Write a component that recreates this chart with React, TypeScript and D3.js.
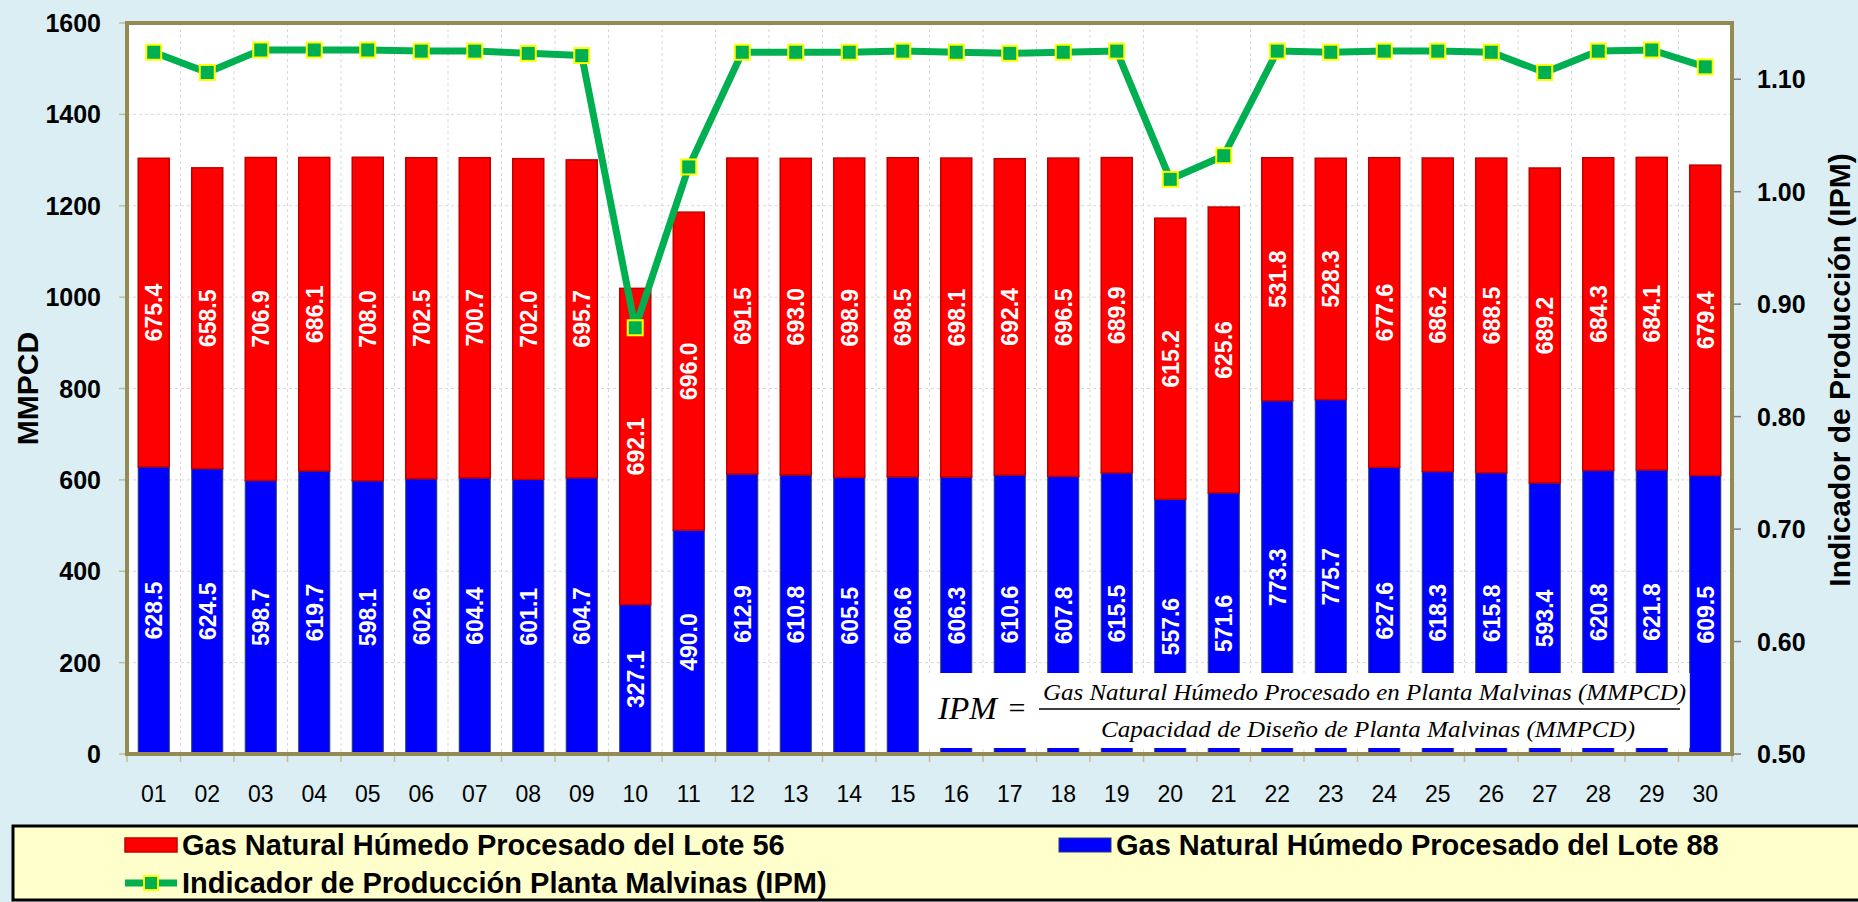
import { useEffect, useRef } from 'react';
import * as d3 from 'd3';

const days = ['01', '02', '03', '04', '05', '06', '07', '08', '09', '10', '11', '12', '13', '14', '15',
    '16', '17', '18', '19', '20', '21', '22', '23', '24', '25', '26', '27', '28', '29', '30'];

// Gas Natural Húmedo Procesado del Lote 56 (MMPCD)
const lote56 = [675.4, 658.5, 706.9, 686.1, 708.0, 702.5, 700.7, 702.0, 695.7, 692.1, 696.0, 691.5, 693.0, 698.9, 698.5,
    698.1, 692.4, 696.5, 689.9, 615.2, 625.6, 531.8, 528.3, 677.6, 686.2, 688.5, 689.2, 684.3, 684.1, 679.4];

// Gas Natural Húmedo Procesado del Lote 88 (MMPCD)
const lote88 = [628.5, 624.5, 598.7, 619.7, 598.1, 602.6, 604.4, 601.1, 604.7, 327.1, 490.0, 612.9, 610.8, 605.5, 606.6,
    606.3, 610.6, 607.8, 615.5, 557.6, 571.6, 773.3, 775.7, 627.6, 618.3, 615.8, 593.4, 620.8, 621.8, 609.5];

// Indicador de Producción Planta Malvinas
const ipm = [1.124, 1.106, 1.126, 1.126, 1.126, 1.125, 1.125, 1.123, 1.121, 0.879, 1.022, 1.124, 1.124, 1.124, 1.125,
    1.124, 1.123, 1.124, 1.125, 1.011, 1.032, 1.125, 1.124, 1.125, 1.125, 1.124, 1.106, 1.125, 1.126, 1.111];

const leftTicks = [0, 200, 400, 600, 800, 1000, 1200, 1400, 1600];
const rightTicks = [0.5, 0.6, 0.7, 0.8, 0.9, 1.0, 1.1];

const legendLabels = [
    'Gas Natural Húmedo Procesado del Lote 56',
    'Gas Natural Húmedo Procesado del Lote 88',
    'Indicador de Producción Planta Malvinas (IPM)'
];

const formulaTop = 'Gas Natural Húmedo Procesado en Planta Malvinas (MMPCD)';
const formulaBottom = 'Capacidad de Diseño de Planta Malvinas (MMPCD)';

const SANS = "'Liberation Sans', Arial, sans-serif";
const SERIF = "'Liberation Serif', 'Times New Roman', serif";

const App = () => {
    const svgRef = useRef<SVGSVGElement>(null);

    useEffect(() => {
        const W = 1858;
        const H = 902;
        const plot = { left: 127, right: 1732, top: 23, bottom: 754 };

        const svg = d3.select(svgRef.current);
        svg.selectAll('*').remove();

        svg.append('rect').attr('width', W).attr('height', H).attr('fill', '#DAEEF3');

        const x = d3.scaleBand<string>()
            .domain(days)
            .range([plot.left, plot.right])
            .paddingInner(0.42)
            .paddingOuter(0.21);
        const step = x.step();

        const y = d3.scaleLinear().domain([0, 1600]).range([plot.bottom, plot.top]);
        const y2 = d3.scaleLinear().domain([0.5, 1.15]).range([plot.bottom, plot.top]);

        // plot area
        svg.append('rect')
            .attr('x', plot.left).attr('y', plot.top)
            .attr('width', plot.right - plot.left).attr('height', plot.bottom - plot.top)
            .attr('fill', '#ffffff');

        // grid
        svg.append('g')
            .selectAll('line')
            .data(leftTicks.filter(t => t > 0 && t < 1600))
            .enter()
            .append('line')
            .attr('x1', plot.left).attr('x2', plot.right)
            .attr('y1', d => y(d)).attr('y2', d => y(d))
            .attr('stroke', '#D9D9D9').attr('stroke-width', 1).attr('stroke-dasharray', '3,3');

        svg.append('g')
            .selectAll('line')
            .data(days.slice(1))
            .enter()
            .append('line')
            .attr('x1', d => (x(d) as number) - step * 0.21)
            .attr('x2', d => (x(d) as number) - step * 0.21)
            .attr('y1', plot.top).attr('y2', plot.bottom)
            .attr('stroke', '#D9D9D9').attr('stroke-width', 1).attr('stroke-dasharray', '3,3');

        // stacked bars
        const bars = svg.append('g');
        bars.selectAll('.b88')
            .data(days)
            .enter()
            .append('rect')
            .attr('class', 'b88')
            .attr('x', d => x(d) as number)
            .attr('width', x.bandwidth())
            .attr('y', (d, i) => y(lote88[i]))
            .attr('height', (d, i) => y(0) - y(lote88[i]))
            .attr('fill', '#0000FF')
            .attr('stroke', '#243F60')
            .attr('stroke-width', 1);

        bars.selectAll('.b56')
            .data(days)
            .enter()
            .append('rect')
            .attr('class', 'b56')
            .attr('x', d => x(d) as number)
            .attr('width', x.bandwidth())
            .attr('y', (d, i) => y(lote88[i] + lote56[i]))
            .attr('height', (d, i) => y(lote88[i]) - y(lote88[i] + lote56[i]))
            .attr('fill', '#FF0000')
            .attr('stroke', '#C00000')
            .attr('stroke-width', 1.5);

        // bar labels
        const labelG = svg.append('g')
            .attr('font-family', SANS)
            .attr('font-size', 23)
            .attr('font-weight', 'bold')
            .attr('fill', '#ffffff')
            .attr('text-anchor', 'middle');

        days.forEach((d, i) => {
            const cx = (x(d) as number) + x.bandwidth() / 2;
            const cyBlue = (y(0) + y(lote88[i])) / 2;
            const cyRed = (y(lote88[i]) + y(lote88[i] + lote56[i])) / 2;
            labelG.append('text')
                .attr('transform', `translate(${cx},${cyBlue}) rotate(-90)`)
                .attr('dy', '0.36em')
                .text(lote88[i].toFixed(1));
            labelG.append('text')
                .attr('transform', `translate(${cx},${cyRed}) rotate(-90)`)
                .attr('dy', '0.36em')
                .text(lote56[i].toFixed(1));
        });

        // formula box
        const box = { x: 920, y: 673, right: x('30') as number, bottom: 748 };
        svg.append('rect')
            .attr('x', box.x).attr('y', box.y)
            .attr('width', box.right - box.x).attr('height', box.bottom - box.y)
            .attr('fill', '#ffffff');
        svg.append('text')
            .attr('x', 938).attr('y', 719)
            .attr('font-family', SERIF).attr('font-style', 'italic')
            .attr('font-size', 32)
            .attr('textLength', 59).attr('lengthAdjust', 'spacingAndGlyphs')
            .text('IPM');
        svg.append('text')
            .attr('x', 1017).attr('y', 718)
            .attr('font-family', SERIF)
            .attr('font-size', 30)
            .attr('text-anchor', 'middle')
            .text('=');
        svg.append('line')
            .attr('x1', 1039).attr('x2', 1680)
            .attr('y1', 709).attr('y2', 709)
            .attr('stroke', '#000').attr('stroke-width', 1.6);
        svg.append('text')
            .attr('x', 1043).attr('y', 700)
            .attr('font-family', SERIF).attr('font-style', 'italic')
            .attr('font-size', 24)
            .attr('textLength', 643).attr('lengthAdjust', 'spacingAndGlyphs')
            .text(formulaTop);
        svg.append('text')
            .attr('x', 1101).attr('y', 737)
            .attr('font-family', SERIF).attr('font-style', 'italic')
            .attr('font-size', 24)
            .attr('textLength', 534).attr('lengthAdjust', 'spacingAndGlyphs')
            .text(formulaBottom);

        // plot border
        svg.append('rect')
            .attr('x', plot.left).attr('y', plot.top)
            .attr('width', plot.right - plot.left).attr('height', plot.bottom - plot.top)
            .attr('fill', 'none')
            .attr('stroke', '#948A54')
            .attr('stroke-width', 4);

        // left axis
        const leftAxis = svg.append('g').attr('font-family', SANS);
        leftTicks.forEach(t => {
            leftAxis.append('line')
                .attr('x1', plot.left - 8).attr('x2', plot.left - 2)
                .attr('y1', y(t)).attr('y2', y(t))
                .attr('stroke', '#C4BD97').attr('stroke-width', 1.5);
            leftAxis.append('text')
                .attr('x', 101).attr('y', y(t))
                .attr('dy', '0.36em')
                .attr('text-anchor', 'end')
                .attr('font-size', 25).attr('font-weight', 'bold')
                .text(t);
        });

        // right axis
        const rightAxis = svg.append('g').attr('font-family', SANS);
        rightTicks.forEach(t => {
            rightAxis.append('line')
                .attr('x1', plot.right + 2).attr('x2', plot.right + 9)
                .attr('y1', y2(t)).attr('y2', y2(t))
                .attr('stroke', '#808080').attr('stroke-width', 1.5);
            rightAxis.append('text')
                .attr('x', 1757).attr('y', y2(t))
                .attr('dy', '0.36em')
                .attr('font-size', 25).attr('font-weight', 'bold')
                .text(t.toFixed(2));
        });

        // x axis ticks + labels
        const xAxis = svg.append('g').attr('font-family', SANS);
        d3.range(days.length + 1).forEach(i => {
            const px = plot.left + i * step;
            xAxis.append('line')
                .attr('x1', px).attr('x2', px)
                .attr('y1', plot.bottom + 2).attr('y2', plot.bottom + 8)
                .attr('stroke', '#C4BD97').attr('stroke-width', 1.5);
        });
        xAxis.selectAll('text')
            .data(days)
            .enter()
            .append('text')
            .attr('x', d => (x(d) as number) + x.bandwidth() / 2)
            .attr('y', 802)
            .attr('text-anchor', 'middle')
            .attr('font-size', 23)
            .text(d => d);

        // IPM line
        const line = d3.line<number>()
            .x((d, i) => (x(days[i]) as number) + x.bandwidth() / 2)
            .y(d => y2(d));
        svg.append('path')
            .datum(ipm)
            .attr('d', line)
            .attr('fill', 'none')
            .attr('stroke', '#00B050')
            .attr('stroke-width', 7)
            .attr('stroke-linejoin', 'round');
        svg.append('g')
            .selectAll('rect')
            .data(ipm)
            .enter()
            .append('rect')
            .attr('x', (d, i) => (x(days[i]) as number) + x.bandwidth() / 2 - 7.5)
            .attr('y', d => y2(d) - 7.5)
            .attr('width', 15).attr('height', 15)
            .attr('fill', '#00B050')
            .attr('stroke', '#FFFF00')
            .attr('stroke-width', 2);

        // axis titles
        svg.append('text')
            .attr('transform', `translate(38,${(plot.top + plot.bottom) / 2}) rotate(-90)`)
            .attr('text-anchor', 'middle')
            .attr('font-family', SANS).attr('font-size', 30).attr('font-weight', 'bold')
            .text('MMPCD');
        svg.append('text')
            .attr('transform', 'translate(1850,370) rotate(-90)')
            .attr('text-anchor', 'middle')
            .attr('font-family', SANS).attr('font-size', 30).attr('font-weight', 'bold')
            .text('Indicador de Producción (IPM)');

        // legend
        const legend = svg.append('g').attr('font-family', SANS).attr('font-size', 29).attr('font-weight', 'bold');
        legend.append('rect')
            .attr('x', 13).attr('y', 826)
            .attr('width', W).attr('height', 74)
            .attr('fill', '#FFFFCC')
            .attr('stroke', '#000').attr('stroke-width', 3);

        legend.append('rect')
            .attr('x', 125).attr('y', 838).attr('width', 52).attr('height', 14)
            .attr('fill', '#FF0000').attr('stroke', '#C00000').attr('stroke-width', 1.5);
        legend.append('text').attr('x', 182).attr('y', 855).text(legendLabels[0]);

        legend.append('rect')
            .attr('x', 1059).attr('y', 838).attr('width', 52).attr('height', 14)
            .attr('fill', '#0000FF').attr('stroke', '#243F60').attr('stroke-width', 1);
        legend.append('text').attr('x', 1116).attr('y', 855).text(legendLabels[1]);

        legend.append('line')
            .attr('x1', 125).attr('x2', 177).attr('y1', 883).attr('y2', 883)
            .attr('stroke', '#00B050').attr('stroke-width', 7);
        legend.append('rect')
            .attr('x', 144).attr('y', 876).attr('width', 14).attr('height', 14)
            .attr('fill', '#00B050').attr('stroke', '#FFFF00').attr('stroke-width', 2);
        legend.append('text').attr('x', 182).attr('y', 893).text(legendLabels[2]);
    }, []);

    return (
        <svg
            ref={svgRef}
            width={1858}
            height={902}
            style={{ position: 'absolute', left: 0, top: 0, display: 'block' }}
        />
    );
};

export default App;
